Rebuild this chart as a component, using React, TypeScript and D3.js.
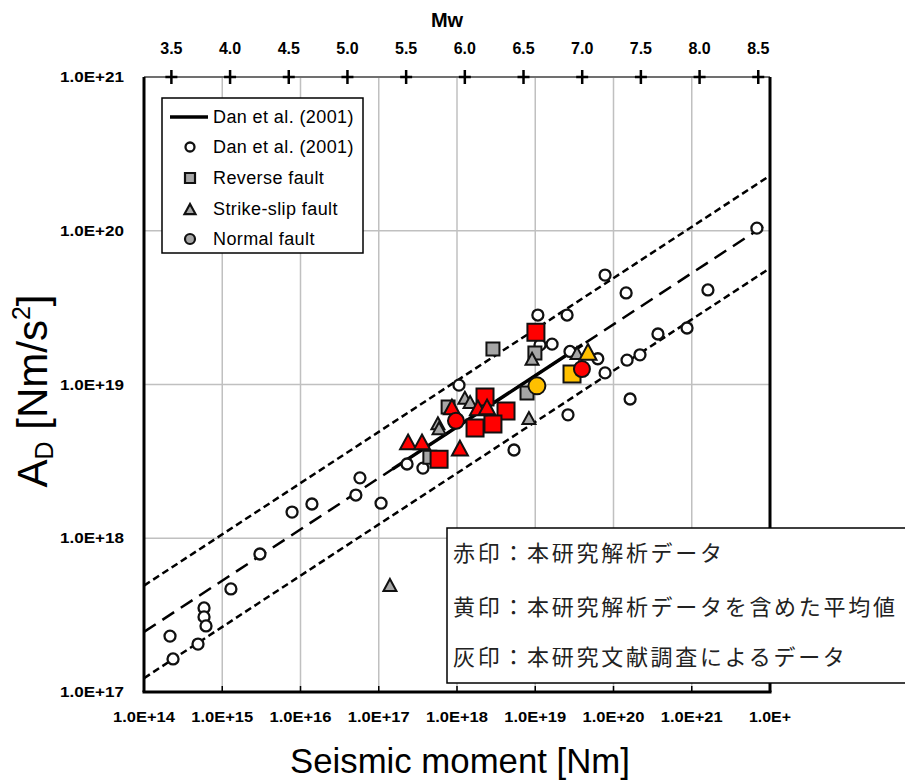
import React from 'react';
import * as d3 from 'd3';

// ---------- data ----------
const xTicks = [1e14, 1e15, 1e16, 1e17, 1e18, 1e19, 1e20, 1e21, 1e22];
const xTickLabels = ['1.0E+14', '1.0E+15', '1.0E+16', '1.0E+17', '1.0E+18', '1.0E+19', '1.0E+20', '1.0E+21', '1.0E+'];
const yTicks = [1e17, 1e18, 1e19, 1e20, 1e21];
const yTickLabels = ['1.0E+17', '1.0E+18', '1.0E+19', '1.0E+20', '1.0E+21'];
const mwTicks = [3.5, 4.0, 4.5, 5.0, 5.5, 6.0, 6.5, 7.0, 7.5, 8.0, 8.5];
const mwTickLabels = ['3.5', '4.0', '4.5', '5.0', '5.5', '6.0', '6.5', '7.0', '7.5', '8.0', '8.5'];
const legendLabels = ['Dan et al. (2001)', 'Dan et al. (2001)', 'Reverse fault', 'Strike-slip fault', 'Normal fault'];
const noteLines = ['赤印：本研究解析データ', '黄印：本研究解析データを含めた平均値', '灰印：本研究文献調査によるデータ'];

// Dan et al. (2001): A = 2.46e10 * (M0[dyne-cm])^(1/3), band factor 2
const danCoef = 2.46e10;
const danExp = 1 / 3;
const bandFactor = 2;
const danSolidRange = [1.5e17, 4.0e19];

// open circles: Dan et al. (2001) data [M0, A]
const danData: [number, number][] = [
  [2.15e14, 2.31e17], [2.35e14, 1.64e17], [4.9e14, 2.05e17], [5.85e14, 3.52e17],
  [5.85e14, 3.08e17], [6.2e14, 2.69e17], [1.29e15, 4.68e17], [3.03e15, 7.9e17],
  [7.8e15, 1.48e18], [1.4e16, 1.67e18], [5.1e16, 1.91e18], [5.75e16, 2.47e18],
  [1.07e17, 1.69e18], [2.3e17, 3.04e18], [3.67e17, 2.86e18], [1.06e18, 9.9e18],
  [5.35e18, 3.75e18], [1.08e19, 2.83e19], [2.55e19, 2.83e19], [1.15e19, 1.81e19],
  [1.64e19, 1.83e19], [2.78e19, 1.64e19], [6.3e19, 1.47e19], [7.8e19, 1.19e19],
  [1.49e20, 1.44e19], [7.8e19, 5.15e19], [1.45e20, 3.94e19], [1.61e21, 4.12e19],
  [6.8e21, 1.04e20], [3.7e20, 2.13e19], [8.7e20, 2.33e19], [2.18e20, 1.56e19],
  [1.63e20, 8.05e18], [2.62e19, 6.35e18],
];

// gray: literature survey
const grayReverse: [number, number][] = [
  [2.88e18, 1.7e19], [9.9e18, 1.6e19], [7.85e18, 8.8e18], [7.7e17, 7.15e18], [4.5e17, 3.37e18],
];
const grayStrike: [number, number][] = [
  [9.1e18, 1.47e19], [8.3e18, 6.05e18], [1.26e18, 8.2e18], [1.47e18, 7.7e18],
  [5.7e17, 5.6e18], [5.9e17, 5.2e18], [1.39e17, 4.97e17], [3.42e19, 1.6e19],
];
// red: this study
const redReverse: [number, number][] = [
  [1.02e19, 2.19e19], [2.28e18, 8.3e18], [4.23e18, 6.73e18], [1.7e18, 5.21e18],
  [2.88e18, 5.53e18], [5.9e17, 3.27e18],
];
const redStrike: [number, number][] = [
  [2.37e17, 4.23e18], [3.57e17, 4.23e18], [1.09e18, 3.86e18], [8.6e17, 7.15e18],
  [1.85e18, 7.05e18], [2.42e18, 7.15e18],
];
const redNormal: [number, number][] = [[9.7e17, 5.8e18], [3.95e19, 1.26e19]];
// yellow: averages
const yellowReverse: [number, number][] = [[2.95e19, 1.17e19]];
const yellowStrike: [number, number][] = [[4.72e19, 1.63e19]];
const yellowNormal: [number, number][] = [[1.05e19, 9.8e18]];

// ---------- layout ----------
const W = 905, H = 780;
const L = 144, R = 770, T = 77, B = 692;
const RED = '#FF0000', YEL = '#FFC000', GRY = '#A6A6A6', EDGE = '#111';
const NUMFONT = '"Liberation Sans", Arial, sans-serif';

const x = d3.scaleLog().domain([1e14, 1e22]).range([L, R]);
const y = d3.scaleLog().domain([1e17, 1e21]).range([B, T]);
const mwToM0 = (mw: number) => Math.pow(10, 1.5 * mw + 9.1);
const dan = (m0: number, f = 1) => f * danCoef * Math.pow(m0 * 1e7, danExp);

const sqPath = (s: number) => `M${-s / 2},${-s / 2}h${s}v${s}h${-s}Z`;
const triPath = (w: number, h: number) => `M0,${-h / 2}L${w / 2},${h / 2}L${-w / 2},${h / 2}Z`;

type Shape = 'sq' | 'tri' | 'circ';
function Marker({ cx, cy, shape, size, fill, sw = 2 }: { cx: number; cy: number; shape: Shape; size: number; fill: string; sw?: number }) {
  if (shape === 'circ') return <circle cx={cx} cy={cy} r={size / 2} fill={fill} stroke={EDGE} strokeWidth={sw} />;
  const d = shape === 'sq' ? sqPath(size) : triPath(size, size * 0.92);
  return <path d={d} transform={`translate(${cx},${cy})`} fill={fill} stroke={EDGE} strokeWidth={sw} strokeLinejoin="miter" />;
}

function Series({ data, shape, size, fill, sw }: { data: [number, number][]; shape: Shape; size: number; fill: string; sw?: number }) {
  return (
    <g>
      {data.map((d, i) => (
        <Marker key={i} cx={x(d[0])} cy={y(d[1])} shape={shape} size={size} fill={fill} sw={sw} />
      ))}
    </g>
  );
}

export default function App() {
  const line = d3.line<number>().x((m) => x(m)).y((m) => y(dan(m)));
  const lineF = (f: number) => d3.line<number>().x((m) => x(m)).y((m) => y(dan(m, f)));
  const ends = [1e14, 1e22];
  const legY = [117, 147, 178, 209, 239];

  return (
    <svg width={W} height={H} style={{ position: 'absolute', left: 0, top: 0, background: '#fff' }}>
      <rect x={0} y={0} width={W} height={H} fill="#fff" />
      {/* grid */}
      {xTicks.slice(1, -1).map((t, i) => (
        <line key={'gx' + i} x1={x(t)} x2={x(t)} y1={T} y2={B} stroke="#C0C0C0" strokeWidth={1.5} />
      ))}
      {yTicks.slice(1, -1).map((t, i) => (
        <line key={'gy' + i} x1={L} x2={R} y1={y(t)} y2={y(t)} stroke="#C0C0C0" strokeWidth={1.5} />
      ))}

      {/* Dan et al. lines */}
      <path d={lineF(bandFactor)(ends) || ''} fill="none" stroke="#000" strokeWidth={2.5} strokeDasharray="7,4" />
      <path d={lineF(1)(ends) || ''} fill="none" stroke="#000" strokeWidth={2.5} strokeDasharray="14,8" />
      <path d={lineF(1 / bandFactor)(ends) || ''} fill="none" stroke="#000" strokeWidth={2.5} strokeDasharray="7,4" />
      <path d={line(danSolidRange) || ''} fill="none" stroke="#000" strokeWidth={3.5} />

      {/* data */}
      <Series data={danData} shape="circ" size={11} fill="#fff" sw={2.3} />
      <Series data={grayReverse} shape="sq" size={13} fill={GRY} />
      <Series data={grayStrike} shape="tri" size={13} fill={GRY} />
      <Series data={yellowNormal} shape="circ" size={17} fill={YEL} />
      <Series data={yellowReverse} shape="sq" size={17} fill={YEL} />
      <Series data={yellowStrike} shape="tri" size={17} fill={YEL} />
      <Series data={redReverse} shape="sq" size={17} fill={RED} />
      <Series data={redStrike} shape="tri" size={16} fill={RED} />
      <Series data={redNormal} shape="circ" size={16} fill={RED} />

      {/* axes frame */}
      <line x1={L} x2={R} y1={T} y2={T} stroke="#707070" strokeWidth={2} />
      <line x1={L} x2={L} y1={T} y2={B} stroke="#000" strokeWidth={3} />
      <line x1={R} x2={R} y1={T} y2={B} stroke="#000" strokeWidth={3} />
      <line x1={L - 1.5} x2={R + 1.5} y1={B} y2={B} stroke="#000" strokeWidth={3} />
      {xTicks.slice(1, -1).map((t, i) => (
        <line key={'bt' + i} x1={x(t)} x2={x(t)} y1={B} y2={B - 6} stroke="#000" strokeWidth={1.5} />
      ))}
      {/* top Mw axis */}
      {mwTicks.map((mw, i) => {
        const px = x(mwToM0(mw));
        return (
          <g key={'mw' + i}>
            <line x1={px - 6} x2={px + 6} y1={T} y2={T} stroke="#000" strokeWidth={2.5} />
            <line x1={px} x2={px} y1={T - 7} y2={T + 7} stroke="#000" strokeWidth={2.5} />
            <text x={px} y={54} textAnchor="middle" fontFamily={NUMFONT} fontWeight="bold" fontSize={16} fill="#000">
              {mwTickLabels[i]}
            </text>
          </g>
        );
      })}
      <text x={447} y={27} textAnchor="middle" fontFamily={NUMFONT} fontWeight="bold" fontSize={20} fill="#000">Mw</text>

      {/* y tick labels */}
      {yTicks.map((t, i) => (
        <text key={'yl' + i} x={124} y={y(t) + 5} textAnchor="end" fontFamily={NUMFONT} fontWeight="bold" fontSize={14.5}
          textLength={64} lengthAdjust="spacingAndGlyphs" fill="#000">
          {yTickLabels[i]}
        </text>
      ))}
      {/* x tick labels */}
      {xTicks.map((t, i) => (
        <text key={'xl' + i} x={x(t)} y={722} textAnchor="middle" fontFamily={NUMFONT} fontWeight="bold" fontSize={14.5}
          textLength={i === xTicks.length - 1 ? 42 : 62} lengthAdjust="spacingAndGlyphs" fill="#000">
          {xTickLabels[i]}
        </text>
      ))}

      {/* axis titles */}
      <text x={460} y={773} textAnchor="middle" fontFamily={NUMFONT} fontSize={35} textLength={340}
        lengthAdjust="spacingAndGlyphs" fill="#000">Seismic moment [Nm]</text>
      <g transform="translate(47,391) rotate(-90)">
        <text x={0} y={0} textAnchor="middle" fontFamily={NUMFONT} fontSize={42} fill="#000">
          <tspan>A</tspan>
          <tspan fontSize={25} dy={6}>D</tspan>
          <tspan dy={-6}> [Nm/s</tspan>
          <tspan fontSize={25} dy={-17}>2</tspan>
          <tspan dy={17}>]</tspan>
        </text>
      </g>

      {/* legend */}
      <rect x={162} y={98} width={201} height={155} fill="#fff" stroke="#000" strokeWidth={1.5} />
      <line x1={170} x2={208} y1={legY[0]} y2={legY[0]} stroke="#000" strokeWidth={3.5} />
      <Marker cx={190} cy={legY[1]} shape="circ" size={9} fill="#fff" sw={2.3} />
      <Marker cx={190} cy={legY[2]} shape="sq" size={10} fill={GRY} sw={2.2} />
      <Marker cx={190} cy={legY[3]} shape="tri" size={11} fill={GRY} sw={2.2} />
      <Marker cx={190} cy={legY[4]} shape="circ" size={10} fill={GRY} sw={2.2} />
      {legendLabels.map((s, i) => (
        <text key={'lg' + i} x={213} y={legY[i] + 6} fontFamily={NUMFONT} fontSize={18} letterSpacing={0.4} fill="#000">{s}</text>
      ))}

      {/* note box */}
      <rect x={447} y={528} width={480} height={155} fill="#fff" stroke="#000" strokeWidth={1.5} />
      {noteLines.map((s, i) => (
        <text key={'nt' + i} x={453} y={[561, 615, 665][i]} fontFamily={'"Noto Sans CJK JP", sans-serif'} fontSize={22}
          letterSpacing={2.7} fill="#222">{s}</text>
      ))}
    </svg>
  );
}
